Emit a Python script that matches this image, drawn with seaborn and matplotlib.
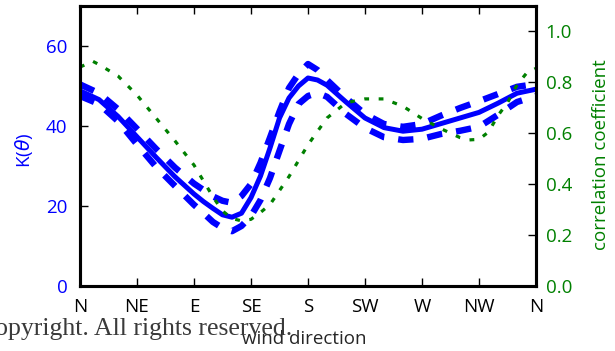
import matplotlib
matplotlib.use("Agg")
import matplotlib.pyplot as plt
import seaborn as sns
import pandas as pd

# ---- data ----
deg_k = [0, 15, 30, 45, 60, 75, 90, 97.5, 105, 112.5, 120, 127.5, 135, 142.5, 150,
         157.5, 165, 172.5, 180, 187.5, 195, 210, 225, 240, 255, 270, 285, 300,
         315, 330, 345, 360]
k_mean = [48.8, 46.6, 42.4, 37.3, 32.2, 27.3, 23.0, 21.1, 19.4, 17.8, 17.2, 18.2, 22.1,
          27.5, 34.5, 42.0, 47.0, 50.0, 52.0, 51.5, 50.2, 46.0, 42.0, 39.6, 38.7, 39.2,
          40.6, 42.0, 43.4, 45.7, 48.2, 49.2]
k_upper = [50.4, 48.2, 44.2, 39.3, 34.3, 29.6, 25.6, 24.0, 22.4, 21.3, 20.8, 22.5, 25.5,
           30.8, 37.1, 43.6, 49.5, 53.0, 55.5, 54.0, 51.5, 47.0, 43.0, 40.5, 39.8, 40.5,
           42.6, 44.5, 46.2, 48.0, 49.8, 50.5]
k_lower = [47.5, 45.5, 41.2, 35.4, 29.8, 25.0, 20.3, 18.2, 16.0, 14.5, 13.7, 15.0, 17.5,
           21.5, 27.0, 33.8, 40.5, 45.5, 47.5, 48.3, 47.3, 43.0, 39.5, 37.2, 36.5, 36.8,
           38.0, 38.8, 39.8, 42.8, 46.0, 47.5]

deg_corr = [0, 10, 15, 30, 45, 60, 75, 90, 105, 112.5, 120, 127.5, 135, 142.5, 150,
            165, 180, 195, 210, 225, 240, 255, 270, 285, 300, 307.5, 315, 322.5, 330,
            337.5, 345, 352.5, 360]
corr = [0.86, 0.883, 0.87, 0.825, 0.75, 0.66, 0.57, 0.475, 0.35, 0.295, 0.265, 0.256,
        0.262, 0.289, 0.32, 0.43, 0.555, 0.66, 0.72, 0.735, 0.735, 0.706, 0.658, 0.618,
        0.583, 0.574, 0.576, 0.605, 0.67, 0.72, 0.79, 0.836, 0.855]

tick_deg = [0, 45, 90, 135, 180, 225, 270, 315, 360]
tick_labels = ["N", "NE", "E", "SE", "S", "SW", "W", "NW", "N"]
k_ticks = [0, 20, 40, 60]
corr_ticks = [0.0, 0.2, 0.4, 0.6, 0.8, 1.0]

df_k = pd.DataFrame({"deg": deg_k, "mean": k_mean, "upper": k_upper, "lower": k_lower})
df_c = pd.DataFrame({"deg": deg_corr, "corr": corr})

sns.set_style("ticks")
plt.rcParams["font.family"] = ["Open Sans", "DejaVu Sans"]
plt.rcParams["mathtext.fontset"] = "dejavusans"

fig = plt.figure(figsize=(6.15, 3.51), dpi=100)
ax = fig.add_axes([80 / 615, 1 - 286 / 351, (536 - 80) / 615, (286 - 6) / 351])
ax2 = ax.twinx()

blue = "#0000ff"
green = "#008000"

dash = (0, (2.4, 2.2))
sns.lineplot(data=df_k, x="deg", y="upper", ax=ax, color=blue, lw=4.6, linestyle=dash)
sns.lineplot(data=df_k, x="deg", y="lower", ax=ax, color=blue, lw=4.6, linestyle=dash)
sns.lineplot(data=df_k, x="deg", y="mean", ax=ax, color=blue, lw=3.6)
sns.lineplot(data=df_c, x="deg", y="corr", ax=ax2, color=green, lw=2.3,
             linestyle=(0, (1.5, 3.0)))

ax.set_xlim(0, 360)
ax.set_ylim(0, 70)
ax2.set_ylim(0, 1.1)
ax.set_xticks(tick_deg)
ax.set_xticklabels(tick_labels)
ax.set_yticks(k_ticks)
ax2.set_yticks(corr_ticks)
ax2.set_yticklabels([f"{v:.1f}" for v in corr_ticks])

fs = 13.5
ax.tick_params(axis="x", direction="in", length=6, width=1, pad=9,
               labelsize=fs, colors="black", top=True)
ax.tick_params(axis="y", direction="in", length=6, width=1, pad=9,
               labelsize=fs, labelcolor=blue, color="black")
ax2.tick_params(axis="y", direction="in", length=6, width=1, pad=7,
                labelsize=fs, labelcolor=green, color="black")

for a in (ax, ax2):
    for s in a.spines.values():
        s.set_linewidth(2.2)
        s.set_color("black")
        s.set_visible(True)

ax.set_xlabel("wind direction", fontsize=fs)
ax.set_ylabel("K($\\theta$)", fontsize=fs, color=blue)
ax2.set_ylabel("correlation coefficient", fontsize=fs, color=green)
ax.xaxis.set_label_coords(0.491, -0.158)
ax.yaxis.set_label_coords(-0.099, 0.486)
ax2.yaxis.set_label_coords(1.123, 0.47)

fig.text(292 / 615, 1 - 335 / 351, "Copyright. All rights reserved.",
         ha="right", va="baseline", fontsize=18.5, color="#3a3a3a",
         family=["Liberation Serif", "DejaVu Serif"])

fig.savefig("out.png", dpi=100)
